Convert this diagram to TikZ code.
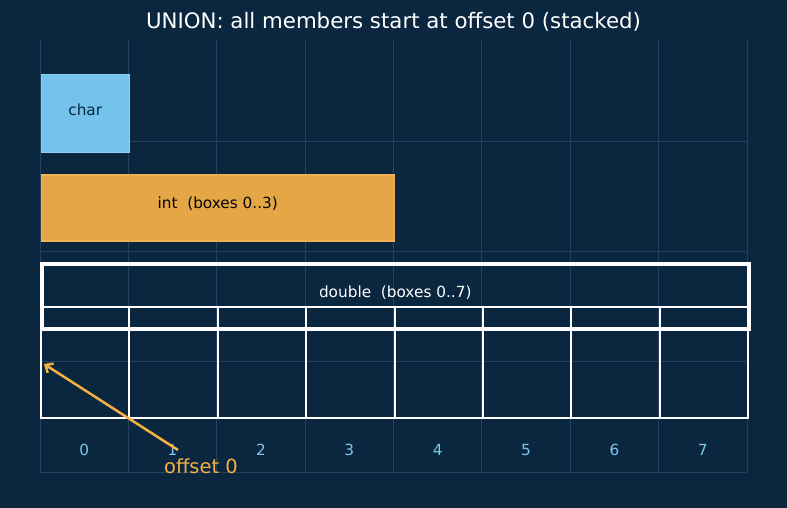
\documentclass[tikz,border=0pt]{standalone}
\usepackage{fontspec}
\setmainfont{DejaVu Sans}
\usetikzlibrary{arrows,arrows.meta,positioning}
\definecolor{bgnavy}{HTML}{0B2740}
\definecolor{gridline}{HTML}{24415D}
\definecolor{charblue}{HTML}{74C3EC}
\definecolor{charedge}{HTML}{8ED0F3}
\definecolor{intorange}{HTML}{E5A646}
\definecolor{intedge}{HTML}{EFB050}
\definecolor{idxblue}{HTML}{7CC6EE}
\definecolor{offorange}{HTML}{F5B041}
\tikzset{
    %Define standard arrow tip
    >={Straight Barb[length=6pt,width=11pt]},
    %Define style for member boxes
    member/.style={
		rectangle,
		anchor=north west,
		inner sep=0pt,
		line width=1.5pt},
	memtext/.style={
		font=\fontsize{15.3}{18}\selectfont,
		yshift=4pt},
	cellbox/.style={
		rectangle,
		anchor=north west,
		inner sep=0pt,
		draw=white, line width=2pt,
		minimum width=88.375pt,
		minimum height=111pt},
	idx/.style={
		text=idxblue,
		font=\fontsize{15.3}{18}\selectfont},
	grid/.style={
		draw=gridline, line width=0.8pt},
	line/.style = {
		->,
		draw=offorange,
		line width=2.5pt}
}

\begin{document}
\begin{tikzpicture}[x=1pt, y=-1pt]
	\fill[bgnavy] (0,0) rectangle (787,508);
	\useasboundingbox (0,0) rectangle (787,508);
	% grid
	\foreach \i in {0,...,8}
		\draw[grid] (40+88.375*\i,40) -- (40+88.375*\i,472);
	\foreach \y in {141,251.3,361.7,472}
		\draw[grid] (40,\y) -- (747,\y);
	\node[text=white, font=\fontsize{21.3}{24}\selectfont] (title) at (393.5,22) {UNION: all members start at offset 0 (stacked)};
	% members
	\node[member, fill=charblue, draw=charedge, minimum width=88pt, minimum height=78pt] (char) at (40.5,74) {};
	\node[memtext, text=bgnavy] (charlabel) at (char.center) {char};
	\node[member, fill=intorange, draw=intedge, minimum width=353pt, minimum height=66pt] (int) at (40.5,174) {};
	\node[memtext, text=black!85!bgnavy] (intlabel) at (int.center) {int\ \ (boxes 0..3)};
	\foreach \i in {0,...,7} {
		\node[cellbox] (cell\i) at (40+88.375*\i,306) {};
		\node[idx] (idx\i) at (84.2+88.375*\i,450) {\i};
	}
	\node[member, draw=white, line width=3.5pt, minimum width=707pt, minimum height=65pt] (double) at (40,262) {};
	\node[memtext, text=white] (doublelabel) at (double.center) {double\ \ (boxes 0..7)};
	% offset pointer
	\node[text=offorange, font=\fontsize{19.5}{22}\selectfont] (offset) at (201,466) {offset 0};
	\coordinate (tail) at (178,450);
	\coordinate (tip) at (44,364);
	\path[line] (tail) -- (tip);
\end{tikzpicture}
\end{document}
